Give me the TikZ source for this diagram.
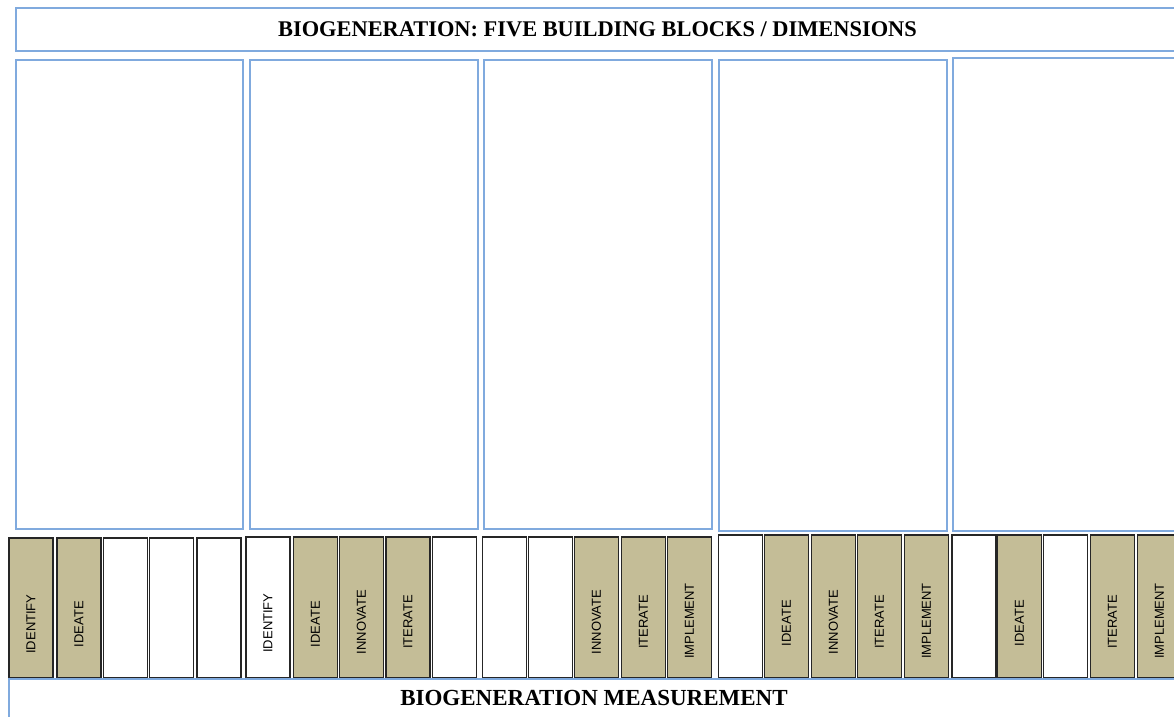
\documentclass[tikz,border=0pt]{standalone}
\usepackage{fontspec}
\setmainfont{Liberation Serif}
\setsansfont{Liberation Sans}
\definecolor{boxblue}{RGB}{128,170,222}
\definecolor{stagetan}{RGB}{196,189,151}
\tikzset{
  frame/.style={draw=boxblue, line width=1.6pt, inner sep=0pt, anchor=north west},
  stage/.style={draw=black!85, line width=1.8pt, minimum width=44pt, inner sep=0pt},
  active/.style={stage, fill=stagetan},
  stagetext/.style={rotate=90, inner sep=0pt, font=\sffamily\fontsize{13}{13}\selectfont},
  headtext/.style={font=\bfseries\fontsize{22.4}{24}\selectfont}
}
\begin{document}
\begin{tikzpicture}[x=1pt, y=-1pt]
    \useasboundingbox (0,0) rectangle (1174,716);

    \node[frame, minimum width=1180pt, minimum height=43pt] (title) at (15,7) {};
    \node[headtext] (titletext) at (597.5,29) {BIOGENERATION: FIVE BUILDING BLOCKS / DIMENSIONS};

    \node[frame, minimum width=227pt, minimum height=469pt] (block1) at (15,59) {};
    \node[frame, minimum width=228pt, minimum height=469pt] (block2) at (249,59) {};
    \node[frame, minimum width=228pt, minimum height=469pt] (block3) at (483,59) {};
    \node[frame, minimum width=228pt, minimum height=471pt] (block4) at (718,59) {};
    \node[frame, minimum width=240pt, minimum height=473pt] (block5) at (952,57) {};

    \node[active, minimum height=140pt] (c11) at (31,608) {};
    \node[active, minimum height=140pt] (c12) at (79,608) {};
    \node[stage,  minimum height=140pt] (c13) at (125.5,608) {};
    \node[stage,  minimum height=140pt] (c14) at (171.5,608) {};
    \node[stage,  minimum height=140pt] (c15) at (219,608) {};
    \node[stagetext] (t11) at (31,624) {IDENTIFY};
    \node[stagetext] (t12) at (79,624) {IDEATE};

    \node[stage,  minimum height=141pt] (c21) at (268,607.5) {};
    \node[active, minimum height=141pt] (c22) at (315.5,607.5) {};
    \node[active, minimum height=141pt] (c23) at (361.5,607.5) {};
    \node[active, minimum height=141pt] (c24) at (408,607.5) {};
    \node[stage,  minimum height=141pt] (c25) at (454.5,607.5) {};
    \node[stagetext] (t21) at (268,623) {IDENTIFY};
    \node[stagetext] (t22) at (315.5,624) {IDEATE};
    \node[stagetext] (t23) at (361.5,622) {INNOVATE};
    \node[stagetext] (t24) at (408,622) {ITERATE};

    \node[stage,  minimum height=141pt] (c31) at (504.5,607.5) {};
    \node[stage,  minimum height=141pt] (c32) at (550.5,607.5) {};
    \node[active, minimum height=141pt] (c33) at (596.5,607.5) {};
    \node[active, minimum height=141pt] (c34) at (643.5,607.5) {};
    \node[active, minimum height=141pt] (c35) at (689.5,607.5) {};
    \node[stagetext] (t33) at (596.5,622) {INNOVATE};
    \node[stagetext] (t34) at (643.5,622) {ITERATE};
    \node[stagetext] (t35) at (689.5,621) {IMPLEMENT};

    \node[stage,  minimum height=143pt] (c41) at (740.5,606.5) {};
    \node[active, minimum height=143pt] (c42) at (786.5,606.5) {};
    \node[active, minimum height=143pt] (c43) at (833.5,606.5) {};
    \node[active, minimum height=143pt] (c44) at (879.5,606.5) {};
    \node[active, minimum height=143pt] (c45) at (926.5,606.5) {};
    \node[stagetext] (t42) at (786.5,623) {IDEATE};
    \node[stagetext] (t43) at (833.5,622) {INNOVATE};
    \node[stagetext] (t44) at (879.5,622) {ITERATE};
    \node[stagetext] (t45) at (926.5,621) {IMPLEMENT};

    \node[stage,  minimum height=143pt] (c51) at (974,606.5) {};
    \node[active, minimum height=143pt] (c52) at (1019.5,606.5) {};
    \node[stage,  minimum height=143pt] (c53) at (1065.5,606.5) {};
    \node[active, minimum height=143pt] (c54) at (1112.5,606.5) {};
    \node[active, minimum height=143pt] (c55) at (1159.5,606.5) {};
    \node[stagetext] (t52) at (1019.5,623) {IDEATE};
    \node[stagetext] (t54) at (1112.5,622) {ITERATE};
    \node[stagetext] (t55) at (1159.5,621) {IMPLEMENT};

    \node[frame, minimum width=1190pt, minimum height=60pt] (measure) at (8,678) {};
    \node[headtext, font=\bfseries\fontsize{23}{25}\selectfont] (measuretext) at (594,698) {BIOGENERATION MEASUREMENT};
\end{tikzpicture}
\end{document}
